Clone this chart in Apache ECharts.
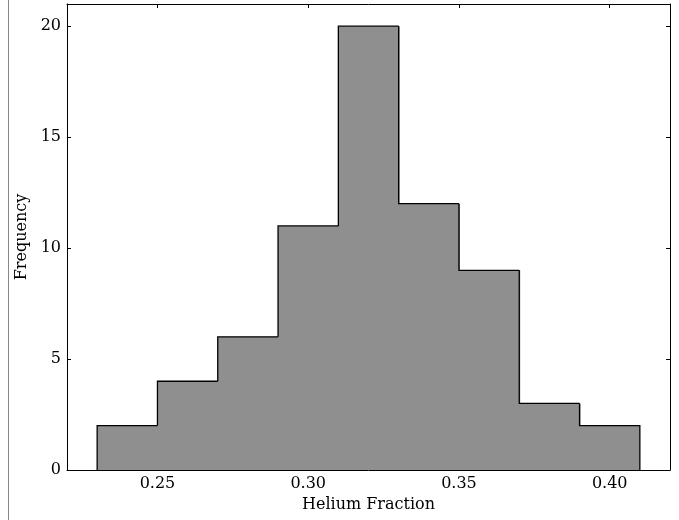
<!DOCTYPE html>
<html><head><meta charset="utf-8">
<script src="https://cdn.jsdelivr.net/npm/echarts@6/dist/echarts.min.js"></script>
<style>html,body{margin:0;padding:0;background:#fff}#c{width:679px;height:520px}</style>
</head><body><div id="c"></div>
<script>
const binEdges = [0.23,0.25,0.27,0.29,0.31,0.33,0.35,0.37,0.39,0.41];
const counts = [2,4,6,11,20,12,9,3,2];
const xTicks = [0.25,0.30,0.35,0.40];
const yTicks = [0,5,10,15,20];

const data = counts.map((c,i)=>[binEdges[i],binEdges[i+1],c,i===0?0:counts[i-1],i===counts.length-1?1:0]);
const font = 'DejaVu Serif';
const chart = echarts.init(document.getElementById('c'));
const axisCommon = {
  axisLine:{show:true,onZero:false,lineStyle:{color:'#000',width:1}},
  axisTick:{show:true,inside:true,length:4,lineStyle:{color:'#000'}},
  splitLine:{show:false}
};
chart.setOption({
  animation:false,
  backgroundColor:'#fff',
  grid:{left:67,right:9,top:4,bottom:50},
  graphic:[{type:'line',shape:{x1:8.5,y1:0,x2:8.5,y2:520},style:{stroke:'#888',lineWidth:1}}],
  xAxis:[
    Object.assign({type:'value',min:0.22,max:0.42,position:'bottom',
      name:'Helium Fraction',nameLocation:'middle',nameGap:33,
      nameTextStyle:{fontFamily:font,fontSize:16,color:'#000',verticalAlign:'middle'},
      axisLabel:{customValues:xTicks,fontFamily:font,fontSize:16,color:'#000',margin:6,formatter:v=>v.toFixed(2)}},
      axisCommon,{axisTick:Object.assign({},axisCommon.axisTick,{customValues:xTicks})}),
    Object.assign({type:'value',min:0.22,max:0.42,position:'top',axisLabel:{show:false}},
      axisCommon,{axisTick:Object.assign({},axisCommon.axisTick,{customValues:xTicks})})
  ],
  yAxis:[
    Object.assign({type:'value',min:0,max:21,position:'left',
      name:'Frequency',nameLocation:'middle',nameGap:41,
      nameTextStyle:{fontFamily:font,fontSize:16,color:'#000',verticalAlign:'middle'},
      axisLabel:{customValues:yTicks,fontFamily:font,fontSize:16,color:'#000',margin:6}},
      axisCommon,{axisTick:Object.assign({},axisCommon.axisTick,{customValues:yTicks})}),
    Object.assign({type:'value',min:0,max:21,position:'right',axisLabel:{show:false}},
      axisCommon,{axisTick:Object.assign({},axisCommon.axisTick,{customValues:yTicks})})
  ],
  series:[{
    type:'custom',
    xAxisIndex:0,yAxisIndex:0,
    data:data,
    renderItem:function(params,api){
      const x0=api.value(0),x1=api.value(1),h=api.value(2),ph=api.value(3),last=api.value(4);
      const p00=api.coord([x0,0]),p0h=api.coord([x0,h]),p1h=api.coord([x1,h]),p10=api.coord([x1,0]),p0p=api.coord([x0,ph]);
      const pts=[p0p,p0h,p1h];
      if(last) pts.push(p10);
      const pad = last ? 0 : 1;
      return {type:'group',children:[
        {type:'rect',z2:0,shape:{x:p0h[0],y:p0h[1],width:p1h[0]-p0h[0]+pad,height:p00[1]-p0h[1]},style:{fill:'#8f8f8f'}},
        {type:'polyline',z2:10,shape:{points:pts},style:{stroke:'#000',lineWidth:1.3,fill:null}}
      ]};
    }
  }]
});
</script></body></html>
